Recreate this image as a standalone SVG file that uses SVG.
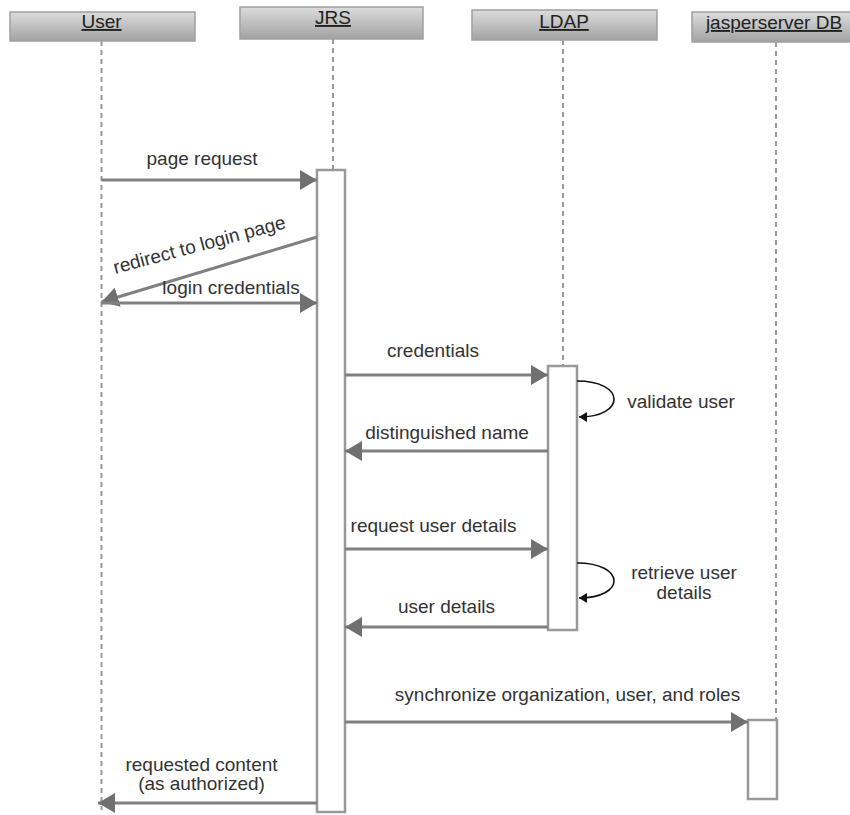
<svg xmlns="http://www.w3.org/2000/svg" width="850" height="815" viewBox="0 0 850 815">
<style>
.hdr{stroke:#a0a0a0;stroke-width:1.5;fill:url(#hg)}
.ht{font-family:"Liberation Sans",Arial,sans-serif;font-size:19px;fill:#222;text-anchor:middle;text-decoration:underline}
.life{stroke:#999;stroke-width:2;stroke-dasharray:5,4;fill:none}
.act{fill:#fff;stroke:#999;stroke-width:2.5}
.msg{stroke:#808080;stroke-width:3;fill:none;marker-end:url(#ah)}
.self{stroke:#111;stroke-width:1.6;fill:none;marker-end:url(#sh)}
.t{font-family:"Liberation Sans",Arial,sans-serif;font-size:19px;fill:#333;text-anchor:middle}
</style>
<defs>
<linearGradient id="hg" x1="0" y1="0" x2="0" y2="1">
<stop offset="0" stop-color="#dcdcdc"/>
<stop offset="1" stop-color="#a2a2a2"/>
</linearGradient>
<marker id="ah" markerUnits="userSpaceOnUse" markerWidth="18" markerHeight="20" refX="17" refY="10" orient="auto">
<path d="M0,0 L17,10 L0,20 Z" fill="#707070"/>
</marker>
<marker id="sh" markerUnits="userSpaceOnUse" markerWidth="10" markerHeight="10" refX="8" refY="5" orient="auto">
<path d="M0,0 L8,5 L0,10 Z" fill="#111"/>
</marker>
</defs>

<g id="lifelines">
<line class="life" x1="101.5" y1="41" x2="101.5" y2="810"/>
<line class="life" x1="333" y1="39" x2="333" y2="170"/>
<line class="life" x1="563" y1="40" x2="563" y2="366"/>
<line class="life" x1="776" y1="42" x2="776" y2="720"/>
</g>

<g id="User">
<rect class="hdr" x="10" y="12" width="185" height="29"/>
<text class="ht" x="101.5" y="28">User</text>
</g>
<g id="JRS">
<rect class="hdr" x="240" y="7" width="183" height="32"/>
<text class="ht" x="333" y="24">JRS</text>
<rect class="act" x="317" y="170" width="28" height="642"/>
</g>
<g id="LDAP">
<rect class="hdr" x="472" y="10" width="185" height="30"/>
<text class="ht" x="564" y="28">LDAP</text>
<rect class="act" x="548" y="366" width="29" height="264"/>
</g>
<g id="jasperserverDB">
<rect class="hdr" x="692" y="12" width="165" height="30"/>
<text class="ht" x="774" y="29">jasperserver DB</text>
<rect class="act" x="748" y="720" width="29" height="79"/>
</g>

<g id="connectors">
<line class="msg" x1="101.5" y1="180" x2="317" y2="180"/>
<line class="msg" x1="317" y1="237" x2="101.5" y2="302"/>
<line class="msg" x1="101.5" y1="303" x2="317" y2="303"/>
<line class="msg" x1="345" y1="375" x2="548" y2="375"/>
<path class="self" d="M577,381 C626,381 626,417 579,417"/>
<line class="msg" x1="548" y1="451" x2="345" y2="451"/>
<line class="msg" x1="345" y1="549" x2="548" y2="549"/>
<path class="self" d="M577,563 C626,563 626,598 579,598"/>
<line class="msg" x1="548" y1="627" x2="345" y2="627"/>
<line class="msg" x1="345" y1="722" x2="748" y2="722"/>
<line class="msg" x1="317" y1="803" x2="98" y2="803"/>
</g>

<g id="labels">
<text class="t" x="202" y="165">page request</text>
<text class="t" x="201" y="251" transform="rotate(-15 201 251)">redirect to login page</text>
<text class="t" x="231" y="294">login credentials</text>
<text class="t" x="433" y="357">credentials</text>
<text class="t" x="681" y="408">validate user</text>
<text class="t" x="447" y="439">distinguished name</text>
<text class="t" x="433.5" y="532">request user details</text>
<text class="t" x="684" y="579">retrieve user</text>
<text class="t" x="684" y="599">details</text>
<text class="t" x="446.5" y="613">user details</text>
<text class="t" x="567.5" y="701">synchronize organization, user, and roles</text>
<text class="t" x="201.5" y="771">requested content</text>
<text class="t" x="201.5" y="790">(as authorized)</text>
</g>
</svg>
